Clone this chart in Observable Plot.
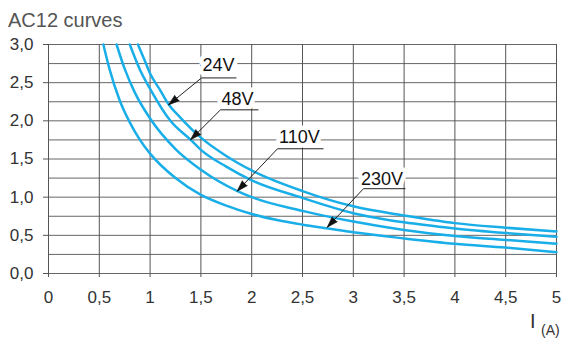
<!DOCTYPE html>
<html>
<head>
<meta charset="utf-8">
<script src="https://cdn.jsdelivr.net/npm/d3@7"></script>
<script src="https://cdn.jsdelivr.net/npm/@observablehq/plot@0.6"></script>
<style>
  body { margin: 0; background: #fff; }
  #wrap { position: relative; width: 568px; height: 338px; font-family: "Liberation Sans", Arial, sans-serif; }
  #title { position: absolute; left: 8px; top: 10px; font-size: 20px; line-height: 20px; color: #555; white-space: nowrap; }
  #unitI { position: absolute; left: 530px; top: 311px; font-size: 20px; line-height: 20px; color: #333; }
  #unitA { position: absolute; left: 541px; top: 323px; font-size: 14px; line-height: 14px; color: #333; }
  #chart { position: absolute; left: 0; top: 0; }
</style>
</head>
<body>
<div id="wrap">
  <div id="chart"></div>
  <div id="title">AC12 curves</div>
  <div id="unitI">I</div>
  <div id="unitA">(A)</div>
</div>
<script>
// ---- data ----
const seriesNames = ["24V", "48V", "110V", "230V"];

const current24 = [0.88, 0.95, 1.0, 1.1, 1.18, 1.3, 1.5, 1.75, 2.0, 2.5, 3.0, 3.5, 4.0, 4.5, 5.0];
const value24   = [3.0, 2.78, 2.62, 2.40, 2.22, 2.04, 1.78, 1.54, 1.35, 1.08, 0.88, 0.76, 0.66, 0.60, 0.55];

const current48 = [0.80, 0.9, 1.0, 1.2, 1.4, 1.5, 1.75, 2.0, 2.5, 3.0, 3.5, 4.0, 4.5, 5.0];
const value48   = [3.0, 2.67, 2.42, 2.0, 1.75, 1.62, 1.40, 1.22, 0.99, 0.79, 0.67, 0.59, 0.53, 0.48];

const current110 = [0.67, 0.75, 0.85, 1.0, 1.25, 1.5, 1.86, 2.0, 2.5, 3.0, 3.5, 4.0, 4.5, 5.0];
const value110   = [3.0, 2.68, 2.37, 2.03, 1.63, 1.36, 1.08, 1.0, 0.82, 0.68, 0.57, 0.49, 0.44, 0.39];

const current230 = [0.54, 0.6, 0.7, 0.8, 0.9, 1.0, 1.25, 1.5, 1.75, 2.0, 2.25, 2.5, 2.75, 3.0, 3.5, 4.0, 4.5, 5.0];
const value230   = [3.0, 2.68, 2.27, 1.98, 1.75, 1.57, 1.25, 1.03, 0.89, 0.78, 0.70, 0.64, 0.59, 0.54, 0.46, 0.39, 0.34, 0.28];

const xTicks = [0, 0.5, 1, 1.5, 2, 2.5, 3, 3.5, 4, 4.5, 5];
const yTicks = [0, 0.5, 1.0, 1.5, 2.0, 2.5, 3.0];
const yGrid  = [0, 0.25, 0.5, 0.75, 1.0, 1.25, 1.5, 1.75, 2.0, 2.25, 2.5, 2.75, 3.0];

// annotation labels (data coordinates)
const labelX = [1.673, 1.860, 2.470, 3.282];
const labelY = [2.725, 2.281, 1.784, 1.235];
const underlineX1 = [1.506, 1.693, 2.254, 3.100];
const underlineX2 = [1.850, 2.067, 2.707, 3.514];
const underlineY  = [2.562, 2.144, 1.634, 1.111];
const arrowTipX = [1.181, 1.398, 1.857, 2.743];
const arrowTipY = [2.209, 1.752, 1.078, 0.605];

// ---- layout ----
const W = 568, H = 338, ML = 48, MR = 12, MT = 44, MB = 65;
const curveColor = "#19aee8";
const ink = "#222";

const curves = [];
[[current24, value24], [current48, value48], [current110, value110], [current230, value230]]
  .forEach(([xs, ys], i) => xs.forEach((x, j) => curves.push({series: seriesNames[i], x, y: ys[j]})));

const labels = seriesNames.map((name, i) => ({
  name, x: labelX[i], y: labelY[i],
  ux1: underlineX1[i], ux2: underlineX2[i], uy: underlineY[i],
  tx: arrowTipX[i], ty: arrowTipY[i]
}));

// pixel-direction of each leader (for arrowhead rotation)
const xs = d3.scaleLinear([0, 5], [ML, W - MR]);
const ys = d3.scaleLinear([0, 3], [H - MB, MT]);
labels.forEach(d => {
  const dx = xs(d.tx) - xs(d.ux1), dy = ys(d.ty) - ys(d.uy);
  d.rot = Math.atan2(dx, -dy) * 180 / Math.PI;
});

const fmtY = d => d.toFixed(1).replace(".", ",");
const fmtX = d => String(d).replace(".", ",");

const hasSpike = typeof Plot.spike === "function";
const headMark = hasSpike
  ? Plot.vector(labels, {x: "tx", y: "ty", rotate: "rot", length: 11, shape: "spike", r: 3.5, anchor: "end",
      fill: "#111", stroke: "#111", strokeWidth: 0.6, fillOpacity: 1})
  : Plot.arrow(labels, {x1: "ux1", y1: "uy", x2: "tx", y2: "ty", stroke: "#111", headLength: 10, strokeWidth: 2});

const chart = Plot.plot({
  width: W, height: H,
  marginLeft: ML, marginRight: MR, marginTop: MT, marginBottom: MB,
  x: {domain: [0, 5]},
  y: {domain: [0, 3]},
  style: {fontFamily: '"Liberation Sans", Arial, sans-serif', fontSize: "17px", color: "#333", background: "#fff"},
  marks: [
    Plot.ruleY(yGrid, {x1: 0, x2: 5, y: d => d, stroke: "#666", strokeWidth: 1}),
    Plot.ruleX(xTicks, {y1: 0, y2: 3, x: d => d, stroke: "#555", strokeWidth: 1}),
    Plot.axisY({ticks: yTicks, tickSize: 5, tickPadding: 10, tickFormat: fmtY, label: null, stroke: "#555"}),
    Plot.axisX({ticks: xTicks, tickSize: 4, tickPadding: 13, tickFormat: fmtX, label: null, stroke: "#555"}),
    Plot.text(labels, {x: "x", y: "y", text: "name", fontSize: 18, fill: "#111", stroke: "white", strokeWidth: 9}),
    Plot.link(labels, {x1: "ux1", x2: "ux2", y1: "uy", y2: "uy", stroke: ink, strokeWidth: 1}),
    Plot.line(curves, {x: "x", y: "y", z: "series", stroke: curveColor, strokeWidth: 2.5, curve: "monotone-x"}),
    Plot.link(labels, {x1: "ux1", y1: "uy", x2: "tx", y2: "ty", stroke: ink, strokeWidth: 1}),
    headMark
  ]
});
document.getElementById("chart").appendChild(chart);
</script>
</body>
</html>
